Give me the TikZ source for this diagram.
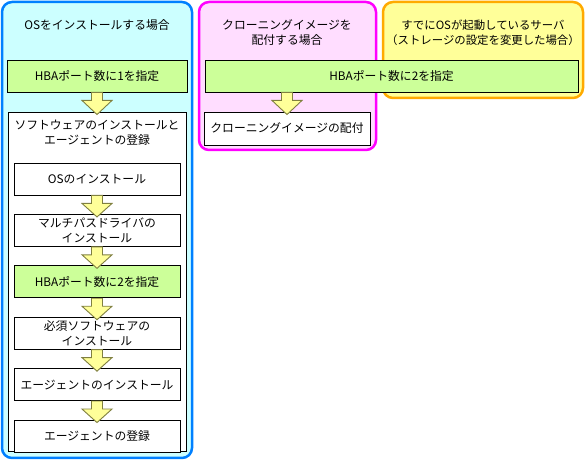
\documentclass[tikz,border=0pt]{standalone}
\usepackage{fontspec}
\setmainfont{Noto Sans CJK JP}
\usetikzlibrary{positioning,calc}
\definecolor{SkyLine}{HTML}{0080FF}
\definecolor{SkyFill}{HTML}{CCFFFF}
\definecolor{PinkLine}{HTML}{FF00FF}
\definecolor{PinkFill}{HTML}{FFDDFF}
\definecolor{GoldLine}{HTML}{FFAA00}
\definecolor{GoldFill}{HTML}{FFFF99}
\definecolor{StepGreen}{HTML}{CCFF99}
\definecolor{ChevFill}{HTML}{FFFF99}
\definecolor{ChevLine}{HTML}{808040}
\tikzset{
  lane/.style={rounded corners=10pt,line width=2.5pt,inner sep=0pt},
  stepbox/.style={draw=black,fill=white,line width=.9pt,minimum width=166pt,minimum height=32pt,align=center,inner sep=1pt},
  setbox/.style={stepbox,fill=StepGreen},
  lanetitle/.style={align=center},
  chev/.style={draw=ChevLine,fill=ChevFill,line width=.9pt,line join=miter}
}
\newcommand\flowchev[2]{%
  \draw[chev] let \p1=(#1.south), \p2=(#2.north) in
    (\x2-5.5pt,\y1) -- (\x2+5.5pt,\y1) -- (\x2+5.5pt,\y1-8pt) -- (\x2+15pt,\y1-8pt)
    -- (\x2,\y2-3pt) -- (\x2-15pt,\y1-8pt) -- (\x2-5.5pt,\y1-8pt) -- cycle;}

\begin{document}
\begin{tikzpicture}[x=1pt,y=1pt,node distance=18.5pt,
  every node/.append style={font=\fontsize{11.8}{15}\selectfont}]
  \useasboundingbox (0,0) rectangle (585,462);
  \node[lane,draw=SkyLine,fill=SkyFill,minimum width=190pt,minimum height=456pt] (oslane) at (97,232) {};
  \node[lane,draw=PinkLine,fill=PinkFill,minimum width=177pt,minimum height=148pt] (cllane) at (287.5,386) {};
  \node[lane,draw=GoldLine,fill=GoldFill,minimum width=200pt,minimum height=96pt] (rslane) at (483,412) {};

  \node[lanetitle] (ostitle) at (97,437) {OSをインストールする場合};
  \node[lanetitle] (cltitle) at (287,429.5) {クローニングイメージを\\配付する場合};
  \node[lanetitle,font=\fontsize{11.4}{15}\selectfont] (rstitle) at (483,429.5) {すでにOSが起動しているサーバ\\（ストレージの設定を変更した場合）};

  \node[setbox,minimum width=180pt] (hbaone) at (97,386) {HBAポート数に1を指定};
  \node[stepbox,minimum width=178pt,minimum height=339pt] (swagent) at (97,180.5) {};
  \node[align=center] (swtitle) at (97,329.5) {ソフトウェアのインストールと\\エージェントの登録};
  \node[stepbox] (osinst) at (97,283) {OSのインストール};
  \node[stepbox,below=of osinst] (mpinst) {マルチパスドライバの\\インストール};
  \node[setbox,below=of mpinst] (hbatwo) {HBAポート数に2を指定};
  \node[stepbox,below=of hbatwo] (reqinst) {必須ソフトウェアの\\インストール};
  \node[stepbox,below=of reqinst] (aginst) {エージェントのインストール};
  \node[stepbox,below=of aginst] (agreg) {エージェントの登録};

  \node[setbox,minimum width=373pt] (hbawide) at (391.5,386) {HBAポート数に2を指定};
  \node[stepbox,minimum height=33pt] (cldist) at (287,333.5) {クローニングイメージの配付};

  \flowchev{hbaone}{swagent}
  \flowchev{osinst}{mpinst}
  \flowchev{mpinst}{hbatwo}
  \flowchev{hbatwo}{reqinst}
  \flowchev{reqinst}{aginst}
  \flowchev{aginst}{agreg}
  \flowchev{hbawide}{cldist}
\end{tikzpicture}
\end{document}
